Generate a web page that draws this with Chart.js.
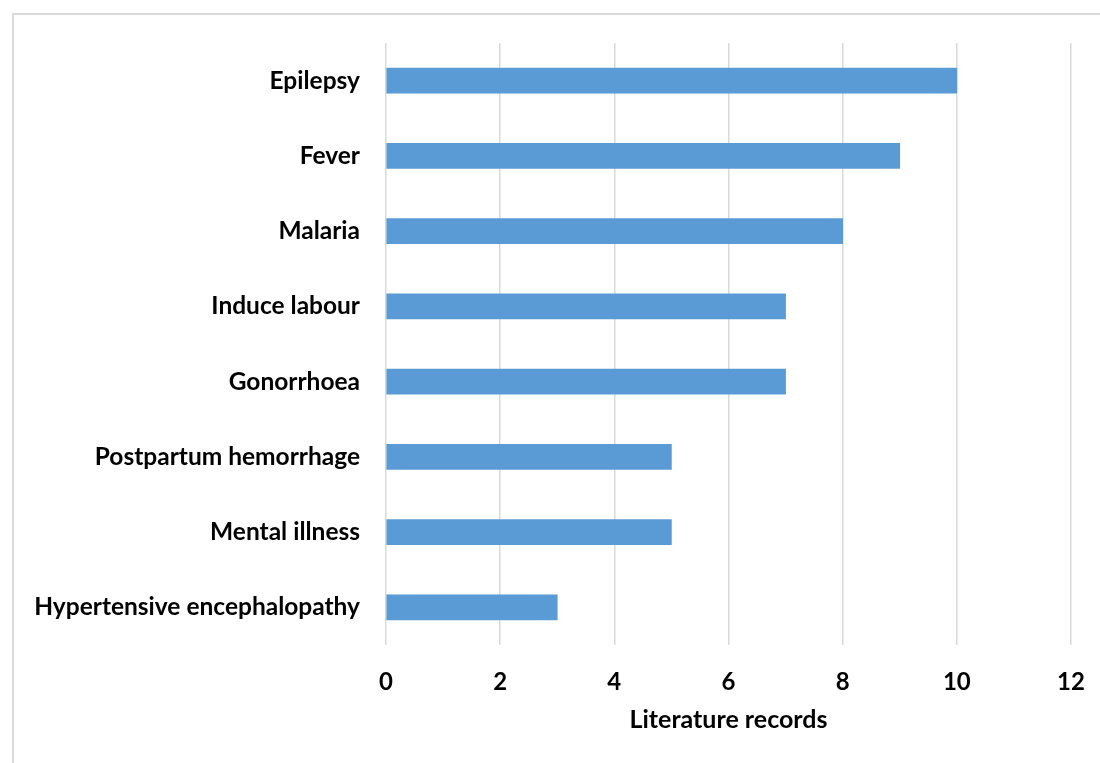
<!DOCTYPE html>
<html>
<head>
<meta charset="utf-8">
<script src="https://cdn.jsdelivr.net/npm/chart.js@4/dist/chart.umd.min.js"></script>
<style>
  html, body { margin: 0; padding: 0; background: #fff; overflow: hidden; }
  #wrap { position: relative; width: 1100px; height: 763px; }
  #frame { position: absolute; left: 12px; top: 13px; width: 1200px; height: 900px;
           border: 2px solid #d9d9d9; box-sizing: border-box; }
  #chart { position: absolute; left: 0; top: 0; }
</style>
</head>
<body>
<div id="wrap">
  <div id="frame"></div>
  <canvas id="chart" width="1100" height="763"></canvas>
</div>
<script>
// Conditions and number of literature records for each
const categories = [
  'Epilepsy',
  'Fever',
  'Malaria',
  'Induce labour',
  'Gonorrhoea',
  'Postpartum hemorrhage',
  'Mental illness',
  'Hypertensive encephalopathy'
];
const records = [10, 9, 8, 7, 7, 5, 5, 3];
const xTicks = [0, 2, 4, 6, 8, 10, 12];

const FONT = 'Lato, "Open Sans", sans-serif';

new Chart(document.getElementById('chart'), {
  type: 'bar',
  data: {
    labels: categories,
    datasets: [{
      data: records,
      backgroundColor: '#5B9BD5',
      borderWidth: 0,
      barThickness: 25
    }]
  },
  options: {
    indexAxis: 'y',
    responsive: false,
    animation: false,
    layout: { padding: { top: 43, right: 29, bottom: 0, left: 0 } },
    plugins: { legend: { display: false }, tooltip: { enabled: false } },
    scales: {
      x: {
        min: xTicks[0],
        max: xTicks[xTicks.length - 1],
        afterBuildTicks: s => { s.ticks = xTicks.map(v => ({ value: v })); },
        grid: { color: '#d9d9d9', lineWidth: 1.5, drawTicks: false },
        border: { display: false },
        ticks: { color: '#000', padding: 22.6, font: { family: FONT, size: 24, weight: 'bold' } },
        title: {
          display: true,
          text: 'Literature records',
          color: '#000',
          padding: { top: 0, bottom: 28 },
          font: { family: FONT, size: 25, weight: 'bold' }
        },
        afterFit: s => { s.height = 118; s.paddingLeft = 0; s.paddingRight = 0; }
      },
      y: {
        grid: { display: false, drawTicks: false },
        border: { display: false },
        ticks: { color: '#000', padding: 26, font: { family: FONT, size: 24.5, weight: 'bold' } },
        afterFit: s => { s.width = 386; s.paddingTop = 0; s.paddingBottom = 0; }
      }
    }
  }
});
</script>
</body>
</html>
